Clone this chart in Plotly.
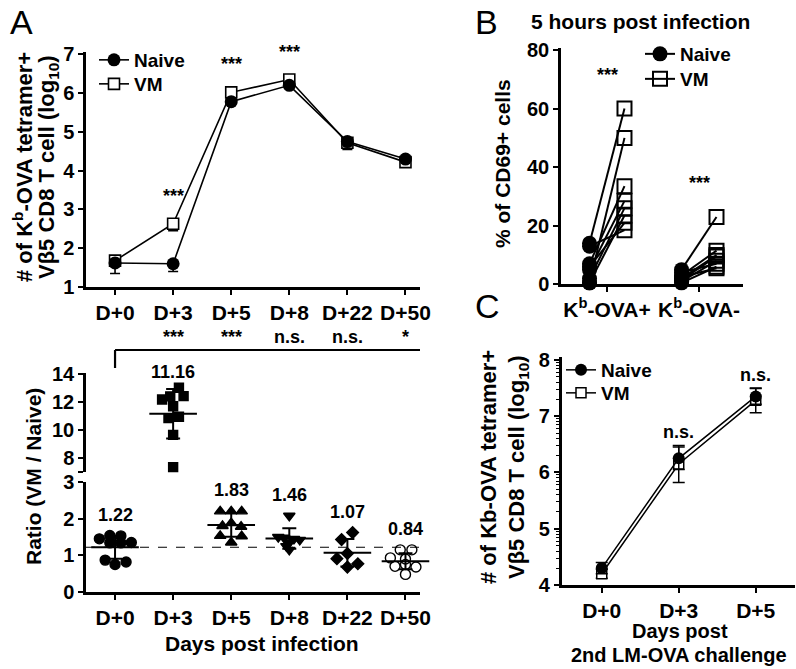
import numpy as np
import plotly.graph_objects as go

W, H = 796, 669
FONT = "Liberation Sans, Arial, sans-serif"

# ---------------- data: panel A (top) ----------------
days = ["D+0", "D+3", "D+5", "D+8", "D+22", "D+50"]
naive_log = [1.62, 1.60, 5.78, 6.20, 4.75, 4.30]
vm_log = [1.68, 2.63, 6.02, 6.35, 4.72, 4.22]
naive_log_err = [0.27, 0.20, 0.06, 0.06, 0.20, 0.06]
vm_log_err = [0.08, 0.18, 0.06, 0.05, 0.10, 0.06]
sig_top = ["", "***", "***", "***", "", ""]

# ---------------- data: panel A (bottom) ----------------
ratio_d0 = [1.45, 1.54, 1.53, 1.34, 1.34, 1.35, 0.87, 0.75, 0.82]
ratio_d3 = [13.02, 12.18, 12.40, 12.42, 11.70, 10.85, 10.95, 9.65, 7.35]
ratio_d5 = [2.20, 2.20, 2.20, 1.80, 1.88, 1.78, 1.53, 1.52, 1.35]
ratio_d8 = [2.08, 1.50, 1.48, 1.45, 1.42, 1.35, 1.25, 1.15]
ratio_d22 = [1.62, 1.43, 0.91, 1.05, 0.77, 0.68]
ratio_d50 = [1.15, 1.15, 0.93, 0.90, 0.83, 0.70, 0.68, 0.75, 0.48]
ratio_means = [1.22, 11.16, 1.83, 1.46, 1.07, 0.84]
sig_ratio = ["", "***", "***", "n.s.", "n.s.", "*"]

# ---------------- data: panel B ----------------
b_groups = ["K<sup>b</sup>-OVA+", "K<sup>b</sup>-OVA-"]
b_pos_naive = [14.0, 0.5, 7.0, 5.0, 2.0, 0.5, 6.0, 13.0]
b_pos_vm = [60.0, 50.0, 33.5, 28.5, 26.0, 23.5, 21.0, 18.5]
b_neg_naive = [5.0, 3.0, 2.0, 1.5, 1.0, 4.0, 0.5, 2.5]
b_neg_vm = [23.0, 11.5, 10.0, 9.5, 8.0, 7.0, 6.0, 5.5]
b_sig = ["***", "***"]

# ---------------- data: panel C ----------------
c_days = ["D+0", "D+3", "D+5"]
c_naive = [4.30, 6.25, 7.35]
c_vm = [4.20, 6.15, 7.28]
c_naive_err = [0.10, 0.20, 0.14]
c_vm_err = [0.08, 0.33, 0.22]
c_sig = ["", "n.s.", "n.s."]

# ---------------- styles ----------------
ratio_groups = [ratio_d0, ratio_d3, ratio_d5, ratio_d8, ratio_d22, ratio_d50]
jitter = [
    [-0.27, -0.09, 0.10, -0.09, 0.10, 0.28, -0.17, 0.0, 0.19],
    [0.10, -0.19, -0.05, 0.18, 0.0, -0.08, 0.10, 0.0, 0.0],
    [-0.19, 0.0, 0.18, -0.15, 0.0, 0.17, -0.19, 0.18, 0.0],
    [0.0, -0.19, -0.09, 0.08, 0.18, 0.0, -0.05, 0.0],
    [0.09, -0.10, -0.18, 0.0, 0.18, 0.0],
    [-0.09, 0.11, -0.26, 0.0, 0.26, -0.18, 0.18, 0.0, 0.0],
]
symbols = ["circle", "square", "triangle-up", "triangle-down", "diamond", "circle-open"]
msizes = [10, 9, 10, 10, 9, 10]
label_shift = [21, 16, 21, 21, 21, 21]


def px(x):
    return x / W


def py(y):
    return 1 - y / H


fig = go.Figure()

# ---- Panel A top ----
xa = list(range(len(days)))
fig.add_trace(go.Scatter(
    x=xa, y=vm_log, mode="lines+markers", name="VM", legend="legend4",
    line=dict(color="black", width=1.6),
    marker=dict(symbol="square", size=11, color="white", line=dict(color="black", width=1.6)),
    error_y=dict(type="data", symmetric=False, array=[0] * len(days), arrayminus=vm_log_err,
                 color="black", thickness=1.6, width=5),
    xaxis="x", yaxis="y", cliponaxis=False))
fig.add_trace(go.Scatter(
    x=xa, y=naive_log, mode="lines+markers", name="Naive", legend="legend",
    line=dict(color="black", width=1.6),
    marker=dict(symbol="circle", size=13, color="black"),
    error_y=dict(type="data", symmetric=False, array=[0] * len(days), arrayminus=naive_log_err,
                 color="black", thickness=1.6, width=5),
    xaxis="x", yaxis="y", cliponaxis=False))

# ---- Panel A bottom ----
for i, vals in enumerate(ratio_groups):
    yax = "y3" if min(vals) >= 7 else "y2"
    fig.add_trace(go.Scatter(
        x=[i + d for d in jitter[i]], y=vals, mode="markers", showlegend=False,
        marker=dict(symbol=symbols[i], size=msizes[i], color="black",
                    line=dict(color="black", width=1.4)),
        xaxis="x2", yaxis=yax, cliponaxis=False))
    sd = float(np.std(vals, ddof=1))
    fig.add_trace(go.Scatter(
        x=[i], y=[ratio_means[i]], mode="markers", showlegend=False,
        marker=dict(symbol="line-ew", size=34, color="black", line=dict(color="black", width=2)),
        error_y=dict(type="data", array=[sd], color="black", thickness=2, width=7),
        xaxis="x2", yaxis=yax, cliponaxis=False))

# ---- Panel B ----
b_sets = [(b_pos_naive, b_pos_vm), (b_neg_naive, b_neg_vm)]
off = 0.19
for c, (nv, vv) in enumerate(b_sets):
    for a, b in zip(nv, vv):
        fig.add_trace(go.Scatter(
            x=[c - off, c + off], y=[a, b], mode="lines", showlegend=False,
            line=dict(color="black", width=2), xaxis="x3", yaxis="y4", cliponaxis=False))


def sep(xs, ys):
    ox, oy = [], []
    for a, b in zip(xs, ys):
        ox += [a, None]
        oy += [b, None]
    return ox, oy


vx, vy = [], []
nx, ny = [], []
for c, (nv, vv) in enumerate(b_sets):
    a, b = sep([c + off] * len(vv), vv)
    vx += a
    vy += b
    a, b = sep([c - off] * len(nv), nv)
    nx += a
    ny += b

fig.add_trace(go.Scatter(
    x=vx, y=vy, mode="lines+markers", name="VM", legend="legend5",
    connectgaps=False, line=dict(color="black", width=2),
    marker=dict(symbol="square-open", size=14, color="black", line=dict(width=2)),
    xaxis="x3", yaxis="y4", cliponaxis=False))
fig.add_trace(go.Scatter(
    x=nx, y=ny, mode="lines+markers", name="Naive", legend="legend2",
    connectgaps=False, line=dict(color="black", width=2),
    marker=dict(symbol="circle", size=15, color="black"),
    xaxis="x3", yaxis="y4", cliponaxis=False))

# ---- Panel C ----
xc = list(range(len(c_days)))
fig.add_trace(go.Scatter(
    x=xc, y=c_vm, mode="lines+markers", name="VM", legend="legend6",
    line=dict(color="black", width=1.5),
    marker=dict(symbol="square", size=10, color="white", line=dict(color="black", width=1.5)),
    error_y=dict(type="data", array=c_vm_err, color="black", thickness=1.5, width=6),
    xaxis="x4", yaxis="y5", cliponaxis=False))
fig.add_trace(go.Scatter(
    x=xc, y=c_naive, mode="lines+markers", name="Naive", legend="legend3",
    line=dict(color="black", width=1.5),
    marker=dict(symbol="circle", size=12, color="black"),
    error_y=dict(type="data", array=c_naive_err, color="black", thickness=1.5, width=6),
    xaxis="x4", yaxis="y5", cliponaxis=False))

# ---------------- axes ----------------
tickfont_x = dict(family=FONT, size=21, color="black", weight="bold")
tickfont_y = dict(family=FONT, size=20, color="black", weight="bold")
common = dict(showline=True, linewidth=2.5, linecolor="black", ticks="outside", ticklen=5,
              tickwidth=2, tickcolor="black", showgrid=False, zeroline=False, automargin=False)

fig.update_layout(
    xaxis=dict(domain=[px(86), px(420)], anchor="y", range=[-0.5, 5.25],
               tickvals=xa, ticktext=days, tickfont=tickfont_x, **common),
    yaxis=dict(domain=[py(287), py(52)], anchor="x", range=[1, 7.06],
               tickvals=[1, 2, 3, 4, 5, 6, 7], tickfont=tickfont_y, **common),
    xaxis2=dict(domain=[px(86), px(420)], anchor="y2", range=[-0.5, 5.25],
                tickvals=xa, ticktext=days, tickfont=tickfont_x, **common),
    yaxis2=dict(domain=[py(592), py(482)], anchor="x2", range=[0, 3],
                tickvals=[0, 1, 2, 3], tickfont=tickfont_y, **common),
    yaxis3=dict(domain=[py(472), py(372.6)], anchor="x2", range=[7, 14.1],
                tickvals=[7, 8, 10, 12, 14], ticktext=["", "8", "10", "12", "14"],
                tickfont=tickfont_y, **common),
    xaxis3=dict(domain=[px(561), px(743)], anchor="y4", range=[-0.5, 1.478],
                tickvals=[0, 1], ticktext=b_groups, tickfont=tickfont_x, **common),
    yaxis4=dict(domain=[py(284.3), py(48)], anchor="x3", range=[0, 80.7],
                tickvals=[0, 20, 40, 60, 80], tickfont=tickfont_y, **common),
    xaxis4=dict(domain=[px(561.7), px(795)], anchor="y5", range=[-0.52, 2.51],
                tickvals=xc, ticktext=c_days, tickfont=tickfont_x, **common),
    yaxis5=dict(domain=[py(585), py(357)], anchor="x4", range=[4, 8.05],
                tickvals=[4, 5, 6, 7, 8], tickfont=tickfont_y,
                minor=dict(tickvals=[n + np.log10(k) for n in range(4, 8) for k in range(2, 10)],
                           ticks="outside", ticklen=3, tickwidth=1, tickcolor="black"),
                **common),
)

legfont = dict(family=FONT, size=19, color="black", weight="bold")
legcommon = dict(xanchor="left", yanchor="top", font=legfont, xref="container", yref="container",
                 bgcolor="rgba(0,0,0,0)", itemwidth=30, tracegroupgap=0)
fig.update_layout(
    legend=dict(x=px(94), y=py(41), **legcommon),
    legend4=dict(x=px(94), y=py(65), **legcommon),
    legend2=dict(x=px(640), y=py(35), **legcommon),
    legend5=dict(x=px(640), y=py(60), **legcommon),
    legend3=dict(x=px(561), y=py(351), **legcommon),
    legend6=dict(x=px(561), y=py(374), **legcommon),
)

# ---------------- annotations ----------------
ann = []
tfont = dict(family=FONT, size=21, color="black", weight="bold")
yfont = dict(family=FONT, size=22, color="black", weight="bold")
xfont = dict(family=FONT, size=20, color="black", weight="bold")
sfont = dict(family=FONT, size=18, color="black", weight="bold")


def paper_text(text, x, y, font, angle=0):
    ann.append(dict(text=text, x=px(x), y=py(y), xref="paper", yref="paper",
                    xanchor="center", yanchor="middle", showarrow=False, font=font,
                    textangle=angle))


# panel letters
letter_font = dict(family=FONT, size=34, color="black")
paper_text("A", 21, 22, letter_font)
paper_text("B", 486, 22, letter_font)
paper_text("C", 487, 306, letter_font)

# titles
paper_text("# of K<sup>b</sup>-OVA tetramer+", 23, 167, yfont, -90)
paper_text("Vβ5 CD8 T cell (log<sub>10</sub>)", 48, 167, yfont, -90)
paper_text("Ratio (VM / Naive)", 34, 477, tfont, -90)
paper_text("Days post infection", 262, 643, tfont)
paper_text("5 hours post infection", 640, 22, tfont)
paper_text("% of CD69+ cells", 503, 164, tfont, -90)
paper_text("# of Kb-OVA tetramer+", 488, 467, yfont, -90)
paper_text("Vβ5 CD8 T cell (log<sub>10</sub>)", 518, 467, yfont, -90)
paper_text("Days post", 680, 631, xfont)
paper_text("2nd LM-OVA challenge", 679, 655, xfont)

# A top stars
for i, s in enumerate(sig_top):
    if s:
        ann.append(dict(text=s, x=i, y=max(naive_log[i], vm_log[i]), xref="x", yref="y",
                        yshift=28, showarrow=False, font=sfont, yanchor="middle"))

# A bottom value labels
for i, vals in enumerate(ratio_groups):
    yr = "y3" if min(vals) >= 7 else "y2"
    ann.append(dict(text=f"{ratio_means[i]:.2f}", x=i, y=max(vals), xref="x2", yref=yr,
                    yshift=label_shift[i], showarrow=False, font=sfont, yanchor="middle"))

# A bottom significance row
for i, s in enumerate(sig_ratio):
    if s:
        ann.append(dict(text=s, x=i, y=py(337), xref="x2", yref="paper",
                        showarrow=False, font=sfont, yanchor="middle"))

# B stars
for c, (nv, vv) in enumerate(b_sets):
    ann.append(dict(text=b_sig[c], x=c, y=max(vv), xref="x3", yref="y4", yshift=34,
                    showarrow=False, font=sfont, yanchor="middle"))

# C n.s.
for i, s in enumerate(c_sig):
    if s:
        top = max(c_naive[i] + c_naive_err[i], c_vm[i] + c_vm_err[i])
        ann.append(dict(text=s, x=i, y=top, xref="x4", yref="y5", yshift=13,
                        showarrow=False, font=sfont, yanchor="middle"))

fig.update_layout(annotations=ann)

# ---------------- shapes ----------------
shapes = [
    dict(type="line", xref="x2 domain", x0=0, x1=1, yref="y2",
         y0=ratio_means[0], y1=ratio_means[0], line=dict(color="black", width=1.2, dash="dash")),
    dict(type="line", xref="x2", x0=0, x1=5.25, yref="paper", y0=py(350), y1=py(350),
         line=dict(color="black", width=2.2)),
    dict(type="line", xref="x2", x0=0, x1=0, yref="paper", y0=py(350), y1=py(368),
         line=dict(color="black", width=2.2)),
]
fig.update_layout(shapes=shapes)

fig.update_layout(width=W, height=H, margin=dict(l=0, r=0, t=0, b=0, autoexpand=False),
                  paper_bgcolor="white", plot_bgcolor="white", showlegend=True)

fig.write_html("out.html", config={"displayModeBar": False},
               post_script="document.body.style.margin='0px';document.body.style.overflow='hidden';")
